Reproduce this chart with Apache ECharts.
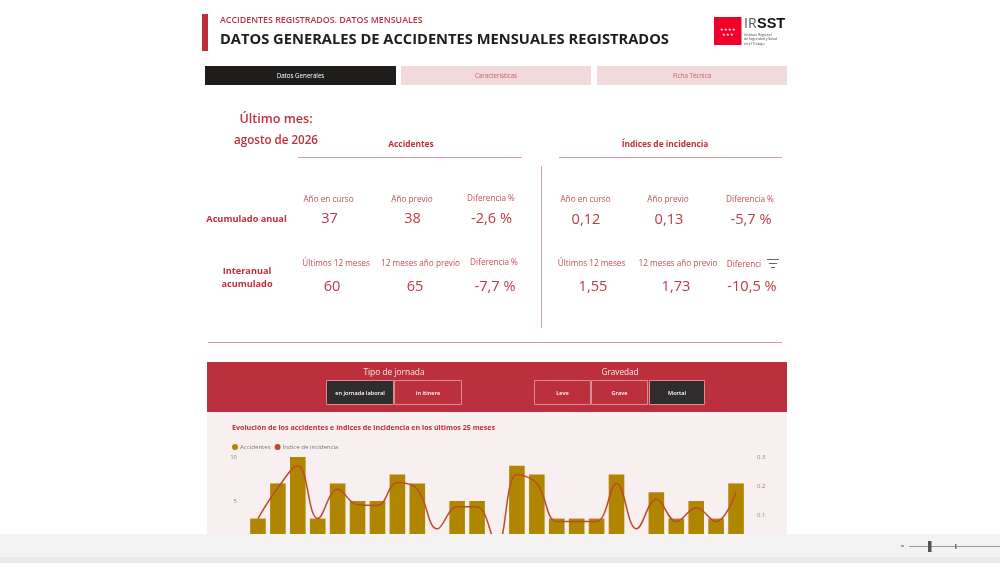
<!DOCTYPE html>
<html><head><meta charset="utf-8">
<style>html,body{margin:0;padding:0;background:#fff}#c{width:1000px;height:563px}</style>
<script src="https://cdn.jsdelivr.net/npm/echarts@6/dist/echarts.min.js"></script>
</head><body><div id="c"></div>
<script>
const categories = ['M1','M2','M3','M4','M5','M6','M7','M8','M9','M10','M11','M12','M13','M14','M15','M16','M17','M18','M19','M20','M21','M22','M23','M24','M25'];
const accidentes = [3,7,10,3,7,5,5,8,7,1,5,5,0,9,8,3,3,3,8,1,6,3,5,3,7];
const indice = [0.09,0.195,0.27,0.09,0.19,0.137,0.135,0.213,0.19,0.055,0.13,0.13,0,0.24,0.21,0.08,0.08,0.08,0.21,0.055,0.157,0.08,0.127,0.08,0.18];
const leftTicks = [0,5,10];
const FONT = '"Open Sans", "Noto Sans", sans-serif';
const RED='#BC303D', DARK='#1F1D1C', PINK='#F2D9DC', LINE='#E0979F';
const els=[];
function T(x,y,text,size,color,o={}){els.push({type:'text',x,y:y+1,z:o.z||5,style:{text,fontFamily:FONT,fontSize:size,fill:color,fontWeight:o.w||400,align:o.a||'center',verticalAlign:'middle'}});}
function R(x,y,w,h,fill,o={}){els.push({type:'rect',z:o.z||1,shape:{x,y,width:w,height:h},style:{fill,stroke:o.s||null,lineWidth:o.lw||0}});}
// header
R(202,14,6,37,RED);
T(220,19.5,'ACCIDENTES REGISTRADOS. DATOS MENSUALES',8.85,RED,{a:'left',w:600});
T(220,38.5,'DATOS GENERALES DE ACCIDENTES MENSUALES REGISTRADOS',14.7,DARK,{a:'left',w:700});
R(714,17,27.5,28,'#F0002B');
T(728,29,'★★★★',4,'#fff'); T(728,34,'★★★',4,'#fff');
els.push({type:'text',x:744,y:24,z:5,style:{text:'IR',fontFamily:FONT,fontSize:14,fill:'#555',verticalAlign:'middle'}});
els.push({type:'text',x:757,y:24,z:5,style:{text:'SST',fontFamily:'"Liberation Sans"',fontSize:14.5,fontWeight:700,fill:'#111',verticalAlign:'middle'}});
T(744,34,'Instituto Regional',3.4,'#444',{a:'left'});
T(744,38.5,'de Seguridad y Salud',3.4,'#444',{a:'left'});
T(744,43,'en el Trabajo',3.4,'#444',{a:'left'});
// tabs
const tabs=[['Datos Generales',205,191,DARK,'#fff'],['Características',401,190,PINK,'#C7606B'],['Ficha Técnica',597,190,PINK,'#C7606B']];
tabs.forEach(t=>{R(t[1],66,t[2],19,t[3]);T(t[1]+t[2]/2,75.5,t[0],6.2,t[4]);});
// last month
T(276,118,'Último mes:',12.6,RED,{w:600});
T(276,139.5,'agosto de 2026',11.6,RED,{w:600});
T(411,143.5,'Accidentes',8.4,RED,{w:700});
T(665,144,'Índices de incidencia',8.4,RED,{w:700});
R(298,157,224,1,LINE); R(559,157,223,1,LINE);
R(541,166,1,162,LINE); R(208,342,574,1,LINE);
T(246.5,218.5,'Acumulado anual',9.2,RED,{w:700});
T(247,270,'Interanual',9.2,RED,{w:700});
T(247,283.5,'acumulado',9.2,RED,{w:700});
const kpiLabels=[
 ['Año en curso',328.5,199],['Año previo',412,199],['Diferencia %',491,198],
 ['Últimos 12 meses',336,263],['12 meses año previo',420.5,263],['Diferencia %',494,262],
 ['Año en curso',585.5,199],['Año previo',668,199],['Diferencia %',750,199],
 ['Últimos 12 meses',591.5,263],['12 meses año previo',678,263],['Diferenci',744,264]];
kpiLabels.forEach(k=>T(k[1],k[2],k[0],8.2,'#C44E5A'));
const kpiValues=[
 ['37',329.5,218],['38',412.5,218],['-2,6 %',491.5,217.5],
 ['60',332,286],['65',415,286],['-7,7 %',495,286],
 ['0,12',586,219],['0,13',669,219],['-5,7 %',751,218.5],
 ['1,55',593,286],['1,73',676,286],['-10,5 %',752,286]];
kpiValues.forEach(k=>T(k[1],k[2],k[0],14.6,'#BC3A47'));
// filter icon
R(767,259,12,1,'#666');R(769,263,8,1,'#666');R(771,267,4,1,'#666');
// band
R(207,362,580,50,RED); R(207,412,580,130,'#F8EFF1',{z:0});
T(394,372,'Tipo de jornada',8.4,'#FBE9EB');
T(620,372,'Gravedad',8.2,'#FBE9EB');
const btn=[['en jornada laboral',326,68,true],['in itinere',394,68,false],['Leve',534,57,false],['Grave',591,57,false],['Mortal',649,56,true]];
btn.forEach(b=>{R(b[1]+.5,380.5,b[2]-1,24,b[3]?'#2E2C2C':RED,{s:'#D98A92',lw:1});T(b[1]+b[2]/2,392.5,b[0],5.6,'#fff',{w:600});});
T(232,427,'Evolución de los accidentes e índices de incidencia en los últimos 25 meses',7.1,RED,{a:'left',w:700});
// footer
R(0,534,1000,23,'#F3F3F3',{z:20}); R(0,557,1000,6,'#E9E9E9',{z:20});
R(901,545.5,3,1,'#555',{z:21}); R(909,546,91,1,'#999',{z:21});
R(928,541,3.5,11,'#555',{z:21}); R(955,544,1.5,5,'#777',{z:21});
const chart=echarts.init(document.getElementById('c'),null,{renderer:'canvas'});
chart.setOption({
 animation:false,backgroundColor:'#fff',
 graphic:{elements:els},
 legend:{left:232,top:444,padding:0,itemWidth:6,itemHeight:6,itemGap:4,icon:'circle',z:6,
  textStyle:{fontFamily:FONT,fontSize:6.1,color:'#777',padding:[0,0,0,-3]},data:['Accidentes','Índice de incidencia']},
 grid:{left:248,right:254,top:457,bottom:18,containLabel:false},
 xAxis:{type:'category',data:categories,z:3,axisLine:{show:false},axisTick:{show:false},axisLabel:{show:false}},
 yAxis:[
  {type:'value',min:0,max:10,interval:5,z:3,axisLine:{show:false},axisTick:{show:false},
   axisLabel:{fontFamily:FONT,fontSize:6,color:'#888',margin:11,formatter:v=>leftTicks.includes(v)?String(v):''},
   splitLine:{lineStyle:{color:'#F5ECEE',width:1}}},
  {type:'value',min:0,max:0.3,interval:0.1,position:'right',z:3,axisLine:{show:false},axisTick:{show:false},
   axisLabel:{fontFamily:FONT,fontSize:6,color:'#888',margin:11,formatter:v=>v.toFixed(1)},splitLine:{show:false}}
 ],
 series:[
  {name:'Accidentes',type:'bar',data:accidentes,barWidth:15.6,itemStyle:{color:'#B08600'},z:4},
  {name:'Índice de incidencia',type:'line',yAxisIndex:1,data:indice,smooth:0.4,showSymbol:false,symbol:'circle',
   lineStyle:{color:'#BE4A2A',width:1.5},itemStyle:{color:'#BE4A2A'},z:5}
 ]
});
</script></body></html>
